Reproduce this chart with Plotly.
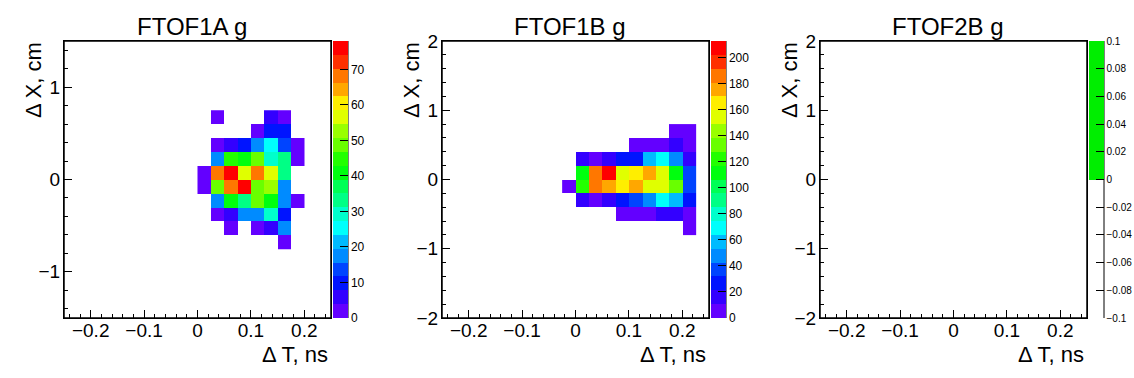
import colorsys
import numpy as np
import plotly.graph_objects as go

W, H = 1134, 378

# ---------------- data ----------------
titles = ["FTOF1A g", "FTOF1B g", "FTOF2B g"]
x_title = "\u0394 T, ns"
y_title = "\u0394 X, cm"

# FTOF1A: x bin centers (ns), y bin centers (cm), counts rows bottom->top
ftof1a_x = [0.0125, 0.0375, 0.0625, 0.0875, 0.1125, 0.1375, 0.1625, 0.1875]
ftof1a_y = [-0.675, -0.525, -0.375, -0.225, -0.075, 0.075, 0.225, 0.375, 0.525, 0.675]
ftof1a_counts = [
    [0, 0, 0, 0, 0, 0, 3, 0],
    [0, 0, 2, 0, 3, 6, 17, 0],
    [0, 2, 6, 17, 17, 29, 10, 0],
    [0, 17, 41, 33, 49, 41, 17, 3],
    [3, 49, 68, 76, 49, 51, 17, 0],
    [3, 68, 78, 56, 68, 56, 33, 0],
    [0, 17, 45, 41, 49, 29, 33, 3],
    [0, 2, 6, 10, 17, 25, 13, 3],
    [0, 0, 0, 0, 2, 10, 10, 0],
    [0, 2, 0, 0, 0, 6, 2, 0],
]

# FTOF1B
ftof1b_x = [-0.0125, 0.0125, 0.0375, 0.0625, 0.0875, 0.1125, 0.1375, 0.1625, 0.1875, 0.2125]
ftof1b_y = [-0.7, -0.5, -0.3, -0.1, 0.1, 0.3, 0.5, 0.7]
ftof1b_counts = [
    [0, 0, 0, 0, 0, 0, 0, 0, 0, 5],
    [0, 0, 0, 0, 5, 5, 5, 16, 16, 5],
    [0, 16, 5, 16, 27, 37, 48, 69, 58, 27],
    [5, 122, 186, 176, 165, 176, 154, 154, 133, 37],
    [0, 112, 186, 213, 154, 165, 176, 154, 112, 37],
    [0, 16, 5, 16, 27, 27, 58, 69, 48, 16],
    [0, 0, 0, 0, 0, 5, 5, 5, 16, 5],
    [0, 0, 0, 0, 0, 0, 0, 0, 5, 5],
]

# FTOF2B: empty histogram
ftof2b_x = [0.0]
ftof2b_y = [0.0]
ftof2b_counts = [[0]]

x_range = [-0.25, 0.25]
y_ranges = [[-1.5, 1.5], [-2, 2], [-2, 2]]
z_ranges = [[0, 78], [0, 213], [-0.1, 0.1]]
z_dticks = [10, 20, 0.02]
z_fonts = [12, 12, 10]

# ---------------- ROOT "pretty" palette, 20 contour levels ----------------
def root_levels(n_levels=20, n_colors=50):
    cols = []
    for k in range(n_levels):
        idx = int((k + 0.99) * n_colors / n_levels)
        if idx >= n_colors - 1:
            rgb = (1.0, 0.0, 0.0)
        else:
            hue = 280 - (idx + 1) * (280 / n_colors)
            rgb = colorsys.hls_to_rgb(hue / 360.0, 0.5, 1.0)
        cols.append("rgb(%d,%d,%d)" % tuple(int(round(c * 255)) for c in rgb))
    return cols

lev_cols = root_levels()
n = len(lev_cols)
scale = []
for k, c in enumerate(lev_cols):
    scale.append([k / n, c])
    scale.append([(k + 1) / n, c])

empty_scale = [[0, "rgba(255,255,255,0)"], [0.5, "rgba(255,255,255,0)"],
               [0.5, "rgb(0,238,0)"], [1, "rgb(0,238,0)"]]


def masked(counts):
    a = np.array(counts, dtype=float)
    a[a == 0] = np.nan
    return a


FONT = "Liberation Sans, Arial, Helvetica, sans-serif"

# frame geometry (pixels) per pad
pad_w = 378
fx0, fx1 = 64, 331
fy0, fy1 = 41, 318
cb_x0, cb_x1 = 333, 348


def colorbar(i):
    off = i * pad_w
    return dict(
        x=(off + cb_x0) / W, xanchor="left", xref="paper",
        y=1 - fy1 / H, yanchor="bottom", yref="paper",
        len=(fy1 - fy0) / H, lenmode="fraction",
        thickness=cb_x1 - cb_x0, thicknessmode="pixels",
        xpad=0, ypad=0, outlinewidth=0,
        tickmode="linear", tick0=0, dtick=z_dticks[i],
        ticks="inside", ticklen=8, tickwidth=1.2, tickcolor="black",
        tickfont=dict(family=FONT, size=z_fonts[i], color="black"),
    )


fig = go.Figure()
fig.add_trace(go.Heatmap(x=ftof1a_x, y=ftof1a_y, z=masked(ftof1a_counts),
                         xaxis="x", yaxis="y", colorscale=scale,
                         zmin=z_ranges[0][0], zmax=z_ranges[0][1], zauto=False,
                         hoverongaps=False, showscale=True, colorbar=colorbar(0)))
fig.add_trace(go.Heatmap(x=ftof1b_x, y=ftof1b_y, z=masked(ftof1b_counts),
                         xaxis="x2", yaxis="y2", colorscale=scale,
                         zmin=z_ranges[1][0], zmax=z_ranges[1][1], zauto=False,
                         hoverongaps=False, showscale=True, colorbar=colorbar(1)))
# empty histogram: nothing drawn, only the palette
fig.add_trace(go.Scatter(x=ftof2b_x, y=ftof2b_y, xaxis="x3", yaxis="y3",
                         mode="markers", hoverinfo="skip",
                         marker=dict(size=1, opacity=0,
                                     color=[v for row in ftof2b_counts for v in row],
                                     colorscale=empty_scale,
                                     cmin=z_ranges[2][0], cmax=z_ranges[2][1],
                                     showscale=True, colorbar=colorbar(2))))

annotations = []
shapes = []
for i in range(3):
    off = i * pad_w
    ax = "" if i == 0 else str(i + 1)
    dom_x = [(off + fx0) / W, (off + fx1) / W]
    dom_y = [1 - fy1 / H, 1 - fy0 / H]
    common = dict(showline=True, mirror=True, linecolor="black", linewidth=1,
                  ticks="inside", ticklen=8, tickwidth=1.2, tickcolor="black",
                  showgrid=False, zeroline=False,
                  tickfont=dict(family=FONT, size=19, color="black"))
    fig.update_layout(**{
        "xaxis" + ax: dict(domain=dom_x, range=x_range, anchor="y" + ax,
                           tickmode="linear", tick0=0, dtick=0.1,
                           ticklabelstandoff=-5,
                           minor=dict(dtick=0.02, tick0=0, ticks="inside", ticklen=4,
                                      tickwidth=1.2, tickcolor="black", showgrid=False),
                           **common),
        "yaxis" + ax: dict(domain=dom_y, range=y_ranges[i], anchor="x" + ax,
                           tickmode="linear", tick0=0, dtick=1,
                           ticklabelstandoff=-1,
                           minor=dict(dtick=0.2, tick0=0, ticks="inside", ticklen=4,
                                      tickwidth=1.2, tickcolor="black", showgrid=False),
                           **common),
    })
    # frame
    shapes.append(dict(type="rect", xref="paper", yref="paper",
                       x0=dom_x[0], x1=dom_x[1], y0=dom_y[0], y1=dom_y[1],
                       line=dict(color="black", width=1.5), layer="above"))
    # palette axis line
    shapes.append(dict(type="line", xref="paper", yref="paper",
                       x0=(off + cb_x1) / W, x1=(off + cb_x1) / W,
                       y0=1 - fy1 / H, y1=1 - fy0 / H,
                       line=dict(color="black", width=1)))
    annotations.append(dict(text=titles[i], xref="paper", yref="paper",
                            x=(off + 192) / W, y=1 - 26 / H,
                            xanchor="center", yanchor="middle", showarrow=False,
                            font=dict(family=FONT, size=24, color="black")))
    annotations.append(dict(text=x_title, xref="paper", yref="paper",
                            x=(off + 330) / W, y=1 - 354 / H,
                            xanchor="right", yanchor="middle", showarrow=False,
                            font=dict(family=FONT, size=22, color="black")))
    annotations.append(dict(text=y_title, xref="paper", yref="paper",
                            x=(off + 33) / W, y=1 - 40 / H, textangle=-90,
                            xanchor="center", yanchor="top", showarrow=False,
                            font=dict(family=FONT, size=22, color="black")))

fig.update_layout(
    width=W, height=H,
    margin=dict(l=0, r=0, t=0, b=0, autoexpand=False),
    paper_bgcolor="white", plot_bgcolor="white",
    showlegend=False,
    annotations=annotations, shapes=shapes,
    font=dict(family=FONT, color="black"),
)

fig.write_html("out.html", config={"displayModeBar": False},
               post_script="document.body.style.margin='0';document.body.style.overflow='hidden';")
